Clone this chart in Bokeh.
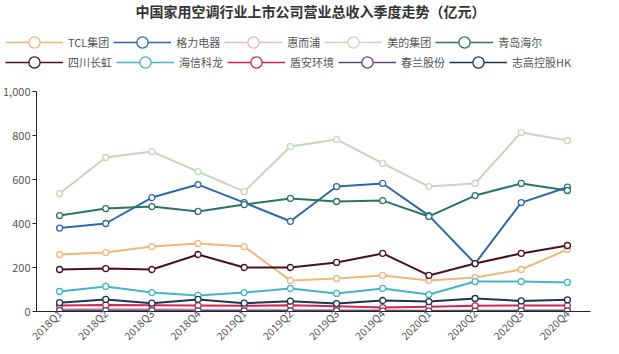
from bokeh.plotting import figure
from bokeh.models import (Legend, LegendItem, NumeralTickFormatter, Range1d,
                          FixedTicker, Label)
from bokeh.layouts import column
from bokeh.embed import file_html
from bokeh.resources import INLINE
import math

quarters = ["2018Q1", "2018Q2", "2018Q3", "2018Q4", "2019Q1", "2019Q2",
            "2019Q3", "2019Q4", "2020Q1", "2020Q2", "2020Q3", "2020Q4"]

tcl = [259, 268, 295, 309, 295, 141, 150, 164, 141, 155, 191, 282]
gree = [379, 400, 518, 577, 495, 410, 568, 582, 436, 218, 495, 565]
whirlpool = [10, 12, 11, 9, 8, 8, 6, 5, 5, 6, 6, 6]
midea = [536, 700, 727, 636, 545, 750, 782, 673, 568, 582, 814, 777]
haier = [436, 468, 477, 455, 486, 514, 500, 504, 432, 527, 582, 550]
changhong = [191, 195, 191, 259, 200, 200, 223, 264, 164, 218, 264, 300]
hisense = [91, 114, 86, 73, 86, 105, 82, 105, 77, 136, 136, 132]
dunan = [27, 29, 28, 27, 26, 28, 24, 18, 22, 26, 27, 27]
chunlan = [4, 4, 4, 3, 3, 3, 3, 3, 2, 2, 3, 3]
chigo = [40, 55, 38, 55, 38, 47, 36, 50, 45, 59, 48, 53]

names = ["TCL集团", "格力电器", "惠而浦", "美的集团", "青岛海尔",
         "四川长虹", "海信科龙", "盾安环境", "春兰股份", "志高控股HK"]
series = [tcl, gree, whirlpool, midea, haier, changhong, hisense, dunan, chunlan, chigo]
colors = ["#eeb878", "#2c6aa6", "#e9b3cc", "#c9d3c3", "#2a7465",
          "#4a0f22", "#45b3cb", "#d0284a", "#5a4a78", "#1d3553"]

FONT = "Noto Sans CJK SC"
TOP_H = 83

# ---------- header figure: title + legend ----------
head = figure(width=619, height=TOP_H, x_range=quarters, y_range=Range1d(2000, 3000),
              output_backend="svg", toolbar_location=None,
              x_axis_type=None, y_axis_type=None,
              min_border_left=0, min_border_right=0, min_border_top=0,
              min_border_bottom=0)
head.frame_align = False
head.outline_line_color = None
head.xgrid.visible = False
head.ygrid.visible = False

legend_refs = []
for name, vals, col in zip(names, series, colors):
    ln = head.line(quarters, vals, line_color=col, line_width=1.5)
    sc = head.scatter(quarters, vals, marker="circle", size=6, fill_color="white",
                      line_color=col, line_width=1.3)
    legend_refs.append((name, [ln, sc]))

head.add_layout(Label(x=310, y=TOP_H - 10, x_units="screen", y_units="screen",
                      text="中国家用空调行业上市公司营业总收入季度走势（亿元）",
                      text_font=FONT, text_font_size="14px", text_font_style="bold",
                      text_color="#333333", text_align="center",
                      text_baseline="middle"))

def make_legend(items, y):
    return Legend(items=[LegendItem(label=n, renderers=r) for n, r in items],
                  orientation="horizontal", location=(5, y),
                  glyph_width=58, glyph_height=28, label_height=20,
                  label_standoff=5, spacing=4,
                  padding=0, margin=0, border_line_alpha=0, background_fill_alpha=0,
                  label_text_font=FONT, label_text_font_size="11px",
                  label_text_color="#555555")

head.add_layout(make_legend(legend_refs[:5], TOP_H - 56))
head.add_layout(make_legend(legend_refs[5:], TOP_H - 76))

# ---------- main chart ----------
p = figure(width=619, height=354 - TOP_H, x_range=quarters, y_range=Range1d(0, 1000),
           output_backend="svg", toolbar_location=None,
           min_border_left=35, min_border_right=29, min_border_top=91 - TOP_H,
           min_border_bottom=43)
p.frame_align = False
p.outline_line_color = None
p.xgrid.visible = False
p.ygrid.visible = False

for name, vals, col in zip(names, series, colors):
    p.line(quarters, vals, line_color=col, line_width=2)
    p.scatter(quarters, vals, marker="circle", size=6, fill_color="white",
              line_color=col, line_width=1.3)

p.yaxis.ticker = FixedTicker(ticks=[0, 200, 400, 600, 800, 1000])
p.yaxis.formatter = NumeralTickFormatter(format="0,0")
p.yaxis.axis_line_color = "#222222"
p.yaxis.major_tick_line_color = "#222222"
p.yaxis.major_tick_out = 4
p.yaxis.major_tick_in = 0
p.yaxis.minor_tick_line_color = None
p.yaxis.major_label_standoff = 2
p.yaxis.major_label_text_font = FONT
p.yaxis.major_label_text_font_size = "11px"
p.yaxis.major_label_text_color = "#555555"

p.xaxis.axis_line_color = "#222222"
p.xaxis.major_tick_line_color = None
p.xaxis.major_tick_out = 0
p.xaxis.minor_tick_line_color = None
p.xaxis.major_label_orientation = math.pi / 4
p.xaxis.major_label_standoff = 0
p.xaxis.major_label_text_font = FONT
p.xaxis.major_label_text_font_size = "10.5px"
p.xaxis.major_label_text_color = "#555555"

layout = column(head, p, spacing=0)
open("out.html", "w").write(file_html(layout, INLINE))
